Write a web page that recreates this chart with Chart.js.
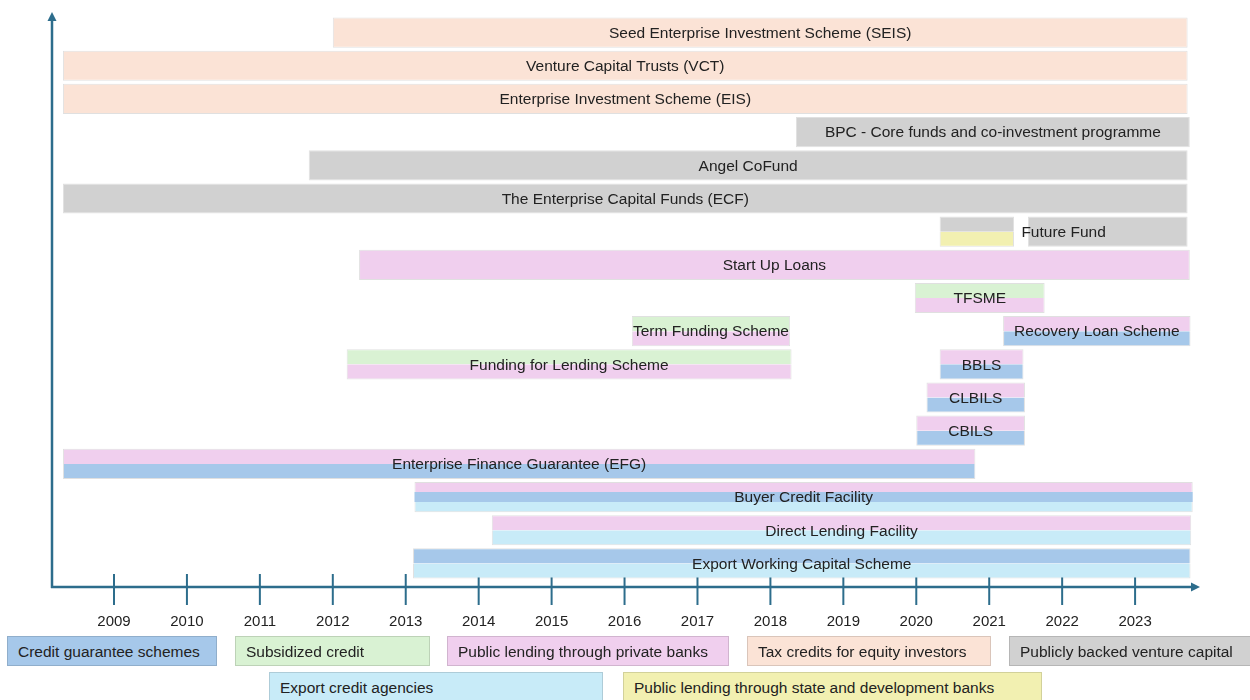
<!DOCTYPE html>
<html>
<head>
<meta charset="utf-8">
<script src="https://cdn.jsdelivr.net/npm/chart.js@4.4.1/dist/chart.umd.min.js"></script>
<style>
    body { margin: 0; background: #fff; font-family: "Liberation Sans", Arial, sans-serif; }
    #wrap { position: relative; width: 1250px; height: 700px; overflow: hidden; }
    #chart { position: absolute; left: 0; top: 0; }
    .key {
        position: absolute; height: 30px; line-height: 30px; box-sizing: border-box;
        padding-left: 10px; font-size: 15.5px; color: #222; white-space: nowrap;
        border: 1px solid rgba(0, 0, 0, 0.13);
    }
</style>
</head>
<body>
<div id="wrap">
    <canvas id="chart" width="1250" height="700"></canvas>
    <div id="legend"></div>
</div>
<script>
// rows of the timeline, top to bottom
const rows = ['SEIS', 'VCT', 'EIS', 'BPC', 'Angel CoFund', 'ECF', 'Future Fund', 'Start Up Loans', 'TFSME',
    'TFS / RLS', 'FLS / BBLS', 'CLBILS', 'CBILS', 'EFG', 'Buyer Credit', 'Direct Lending', 'EWCS'];

const tickYears = [2009, 2010, 2011, 2012, 2013, 2014, 2015, 2016, 2017, 2018, 2019, 2020, 2021, 2022, 2023];

// one entry per bar (Future Fund has two periods)
const schemeNames = [
    'Seed Enterprise Investment Scheme (SEIS)',
    'Venture Capital Trusts (VCT)',
    'Enterprise Investment Scheme (EIS)',
    'BPC - Core funds and co-investment programme',
    'Angel CoFund',
    'The Enterprise Capital Funds (ECF)',
    'Future Fund',
    'Future Fund',
    'Start Up Loans',
    'TFSME',
    'Term Funding Scheme',
    'Recovery Loan Scheme',
    'Funding for Lending Scheme',
    'BBLS',
    'CLBILS',
    'CBILS',
    'Enterprise Finance Guarantee (EFG)',
    'Buyer Credit Facility',
    'Direct Lending Facility',
    'Export Working Capital Scheme'
];
const schemeRow = [0, 1, 2, 3, 4, 5, 6, 6, 7, 8, 9, 9, 10, 10, 11, 12, 13, 14, 15, 16];
const schemeStart = [2012.00, 2008.30, 2008.30, 2018.35, 2011.67, 2008.30, 2020.32, 2021.53, 2012.36, 2019.98,
    2016.10, 2021.19, 2012.19, 2020.32, 2020.14, 2020.00, 2008.30, 2013.12, 2014.18, 2013.10];
const schemeEnd = [2023.72, 2023.72, 2023.72, 2023.75, 2023.72, 2023.72, 2021.34, 2023.72, 2023.75, 2021.76,
    2018.27, 2023.76, 2018.29, 2021.47, 2021.49, 2021.49, 2020.81, 2023.79, 2023.77, 2023.76];
// instrument types of each bar, as stripes from top to bottom
const schemeKinds = [
    ['tax'], ['tax'], ['tax'],
    ['venture'], ['venture'], ['venture'],
    ['venture', 'stateBanks'], ['venture'],
    ['privateBanks'],
    ['subsidized', 'privateBanks'],
    ['subsidized', 'privateBanks'],
    ['privateBanks', 'guarantee'],
    ['subsidized', 'privateBanks'],
    ['privateBanks', 'guarantee'],
    ['privateBanks', 'guarantee'],
    ['privateBanks', 'guarantee'],
    ['privateBanks', 'guarantee'],
    ['privateBanks', 'guarantee', 'export'],
    ['privateBanks', 'export'],
    ['guarantee', 'export']
];

const legendLabels = ['Credit guarantee schemes', 'Subsidized credit', 'Public lending through private banks',
    'Tax credits for equity investors', 'Publicly backed venture capital', 'Export credit agencies',
    'Public lending through state and development banks'];
const legendKinds = ['guarantee', 'subsidized', 'privateBanks', 'tax', 'venture', 'export', 'stateBanks'];

const kindColors = {
    guarantee: '#a6c8ea',
    subsidized: '#d9f2d3',
    privateBanks: '#f0cfee',
    tax: '#fbe3d6',
    venture: '#d1d1d1',
    export: '#c8ebf8',
    stateBanks: '#f2f0b1'
};
const AXIS_COLOR = '#2d6d8c';
const FONT = '"Liberation Sans", Arial, sans-serif';

// legend boxes (left, top, width)
const legendPlacement = [[7, 636, 210], [235, 636, 195], [447, 636, 282], [747, 636, 244], [1009, 636, 245],
    [269, 672, 334], [623, 672, 419]];
const legendEl = document.getElementById('legend');
legendLabels.forEach(function (text, i) {
    const div = document.createElement('div');
    div.className = 'key';
    div.textContent = text;
    div.style.left = legendPlacement[i][0] + 'px';
    div.style.top = legendPlacement[i][1] + 'px';
    div.style.width = legendPlacement[i][2] + 'px';
    div.style.background = kindColors[legendKinds[i]];
    legendEl.appendChild(div);
});

// build one dataset per (type, stripe position)
const stripeNames = { 1: ['full'], 2: ['top', 'bottom'], 3: ['top', 'mid', 'bottom'] };
const stripeOrder = ['full', 'top', 'mid', 'bottom'];
const datasetMap = {};
schemeNames.forEach(function (name, i) {
    const kinds = schemeKinds[i];
    kinds.forEach(function (kind, j) {
        const stripe = stripeNames[kinds.length][j];
        const key = kind + '|' + stripe;
        if (!datasetMap[key]) {
            datasetMap[key] = {
                label: key,
                stack: stripe,
                grouped: stripe !== 'full',
                data: rows.map(() => null),
                backgroundColor: kindColors[kind],
                borderColor: 'rgba(0, 0, 0, 0.12)',
                borderWidth: stripe === 'mid' ? 0 : 1,
                borderSkipped: stripe === 'top' ? 'bottom' : (stripe === 'bottom' ? 'top' : false)
            };
        }
        datasetMap[key].data[schemeRow[i]] = [schemeStart[i], schemeEnd[i]];
    });
});
const datasets = Object.values(datasetMap).sort(function (a, b) {
    return stripeOrder.indexOf(a.stack) - stripeOrder.indexOf(b.stack);
});

// axis lines with arrows and crossing tick marks
const axisPlugin = {
    id: 'axisArrows',
    beforeDatasetsDraw(chart) {
        const { ctx, chartArea, scales } = chart;
        const x0 = chartArea.left;
        const y0 = chartArea.bottom + 7;
        const top = chartArea.top - 4;
        const right = chartArea.right;
        ctx.save();
        ctx.strokeStyle = AXIS_COLOR;
        ctx.fillStyle = AXIS_COLOR;
        ctx.lineWidth = 2.5;
        ctx.beginPath();
        ctx.moveTo(x0, y0 + 1);
        ctx.lineTo(x0, top + 6);
        ctx.moveTo(x0 - 1, y0);
        ctx.lineTo(right - 6, y0);
        ctx.stroke();
        ctx.beginPath();
        ctx.moveTo(x0, top);
        ctx.lineTo(x0 - 4.5, top + 9);
        ctx.lineTo(x0 + 4.5, top + 9);
        ctx.closePath();
        ctx.fill();
        ctx.beginPath();
        ctx.moveTo(right, y0);
        ctx.lineTo(right - 9, y0 - 4.5);
        ctx.lineTo(right - 9, y0 + 4.5);
        ctx.closePath();
        ctx.fill();
        ctx.lineWidth = 2;
        scales.x.ticks.forEach(function (t) {
            if (!tickYears.includes(t.value)) return;
            const px = scales.x.getPixelForValue(t.value);
            ctx.beginPath();
            ctx.moveTo(px, y0 - 13);
            ctx.lineTo(px, y0 + 18);
            ctx.stroke();
        });
        ctx.restore();
    }
};

// scheme names written across their bars
const labelPlugin = {
    id: 'schemeLabels',
    afterDatasetsDraw(chart) {
        const { ctx, scales } = chart;
        const spans = {};
        schemeNames.forEach(function (name, i) {
            if (!spans[name]) {
                spans[name] = { start: schemeStart[i], end: schemeEnd[i], row: schemeRow[i] };
            } else {
                spans[name].start = Math.min(spans[name].start, schemeStart[i]);
                spans[name].end = Math.max(spans[name].end, schemeEnd[i]);
            }
        });
        ctx.save();
        ctx.font = '15.5px ' + FONT;
        ctx.fillStyle = '#222';
        ctx.textAlign = 'center';
        ctx.textBaseline = 'middle';
        Object.keys(spans).forEach(function (name) {
            const s = spans[name];
            const cx = (scales.x.getPixelForValue(s.start) + scales.x.getPixelForValue(s.end)) / 2;
            ctx.fillText(name, cx, scales.y.getPixelForValue(s.row) + 1);
        });
        ctx.restore();
    }
};

new Chart(document.getElementById('chart'), {
    type: 'bar',
    data: {
        labels: rows,
        datasets: datasets
    },
    options: {
        indexAxis: 'y',
        responsive: false,
        animation: false,
        devicePixelRatio: 1,
        layout: { padding: { left: 52, right: 50, top: 16, bottom: 36 } },
        datasets: {
            bar: { skipNull: true, categoryPercentage: 0.91, barPercentage: 1 }
        },
        plugins: {
            legend: { display: false },
            tooltip: { enabled: false }
        },
        scales: {
            x: {
                type: 'linear',
                min: 2008.15,
                max: 2023.89,
                stacked: false,
                grid: { display: false, drawTicks: false },
                border: { display: false },
                ticks: {
                    stepSize: 1,
                    includeBounds: false,
                    autoSkip: false,
                    maxRotation: 0,
                    padding: 33,
                    color: '#222',
                    font: { family: FONT, size: 15 },
                    callback: function (value) {
                        return tickYears.includes(value) ? String(value) : '';
                    }
                }
            },
            y: {
                type: 'category',
                display: false,
                stacked: true,
                offset: true,
                grid: { display: false }
            }
        }
    },
    plugins: [axisPlugin, labelPlugin]
});
</script>
</body>
</html>
